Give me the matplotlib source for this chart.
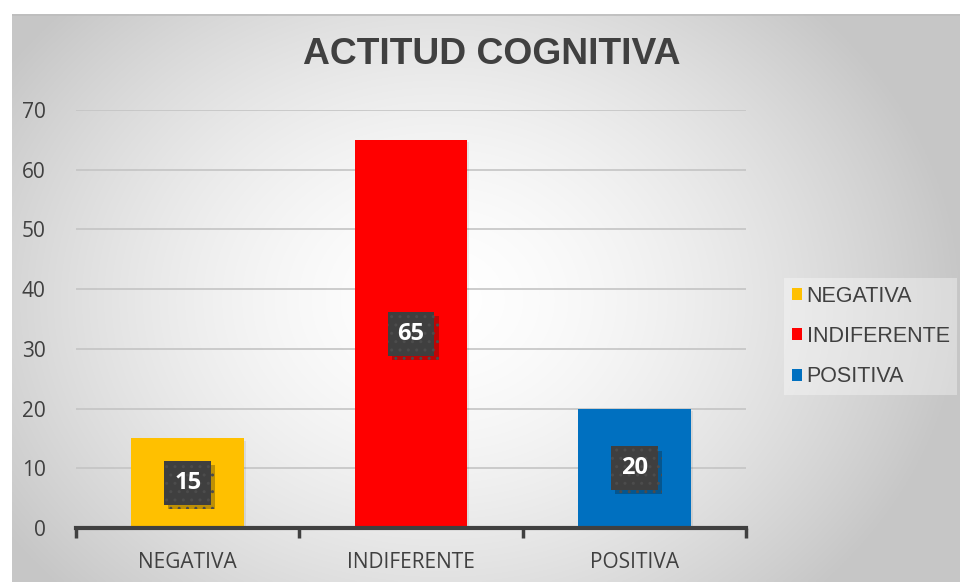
import numpy as np
import matplotlib
matplotlib.use("Agg")
import matplotlib.pyplot as plt
from matplotlib.patches import Patch
import matplotlib.patheffects as pe

categories = ["NEGATIVA", "INDIFERENTE", "POSITIVA"]
values = [15, 65, 20]
colors = ["#FFC000", "#FF0000", "#0070C0"]
yticks = [0, 10, 20, 30, 40, 50, 60, 70]
title = "ACTITUD COGNITIVA"

W, H = 960, 582
fig = plt.figure(figsize=(W / 100, H / 100), dpi=100)
fig.patch.set_facecolor("white")

# background panel with radial gradient
bg = fig.add_axes([12 / W, 0, 1 - 12 / W, 1 - 14 / H])
bg.set_axis_off()
gx, gy = np.meshgrid(np.linspace(12, 960, 400), np.linspace(14, 582, 260))
cx, cy = 440, 300
r = np.sqrt(((gx - cx) / 520) ** 2 + ((gy - cy) / 420) ** 2)
r = np.clip(r, 0, 1)
lv = 1.0 - 0.22 * r ** 1.6
img = np.dstack([lv, lv, lv])
bg.imshow(img, aspect="auto", extent=[0, 1, 0, 1], interpolation="bilinear")
bg.set_xlim(0, 1)
bg.set_ylim(0, 1)
bg.plot([0, 1], [0.999, 0.999], color="#bdbdbd", lw=1.2, transform=bg.transAxes)

ax = fig.add_axes([76 / W, 1 - 528 / H, (746 - 76) / W, (528 - 110) / H])
ax.set_facecolor("none")
x = np.arange(len(categories))
bars = ax.bar(x, values, width=0.505, color=colors, zorder=3)
for b in bars:
    b.set_path_effects([pe.SimplePatchShadow(offset=(1.5, -1.5), shadow_rgbFace="#000000", alpha=0.07), pe.Normal()])

ax.set_xlim(-0.5, 2.5)
ax.set_ylim(0, 70)
ax.set_yticks(yticks)
ax.set_yticklabels([str(v) for v in yticks], fontfamily="Open Sans", fontsize=15, color="#404040")
ax.tick_params(axis="y", length=0, pad=22)
ax.yaxis.grid(True, color="#c4c4c4", lw=1.2, zorder=0)
ax.set_axisbelow(True)

ax.set_xticks([-0.5, 0.5, 1.5, 2.5])
ax.set_xticklabels([])
ax.set_xticks(x, minor=True)
ax.set_xticklabels(categories, minor=True, fontfamily="Open Sans", fontsize=15, color="#404040")
ax.tick_params(axis="x", which="major", length=7, width=2.5, color="#404040", direction="out")
ax.tick_params(axis="x", which="minor", length=0, pad=17)

for s in ["left", "right", "top"]:
    ax.spines[s].set_visible(False)
ax.spines["bottom"].set_color("#404040")
ax.spines["bottom"].set_linewidth(3)
ax.spines["bottom"].set_zorder(4)

for xi, v in zip(x, values):
    t = ax.text(xi, v / 2, str(v), ha="center", va="center", fontfamily="Open Sans",
                fontweight="bold", fontsize=17, color="white", zorder=6,
                bbox=dict(boxstyle="square,pad=0.42", facecolor="#3f3f3f", edgecolor="#4c4c4c",
                          linewidth=0, hatch=".."))
    t.get_bbox_patch().set_path_effects([pe.SimplePatchShadow(offset=(3, -3), alpha=0.28), pe.Normal()])

fig.text(492 / W, 1 - 55 / H, title, ha="center", va="center", fontfamily="Liberation Sans",
         fontweight="bold", fontsize=26.8, color="#404040")

handles = [Patch(facecolor=c, edgecolor="none") for c in colors]
leg = fig.legend(handles, categories, loc="upper left", bbox_to_anchor=(784 / W, 1 - 278 / H),
                 prop={"family": "Liberation Sans", "size": 15.5}, frameon=True, fancybox=False,
                 handlelength=0.5, handleheight=0.5, handletextpad=0.2, labelspacing=0.9,
                 borderpad=0.35, borderaxespad=0)
leg.get_frame().set_facecolor("#ffffff")
leg.get_frame().set_alpha(0.35)
leg.get_frame().set_edgecolor("none")
for txt in leg.get_texts():
    txt.set_color("#404040")

fig.savefig("out.png", dpi=100)
